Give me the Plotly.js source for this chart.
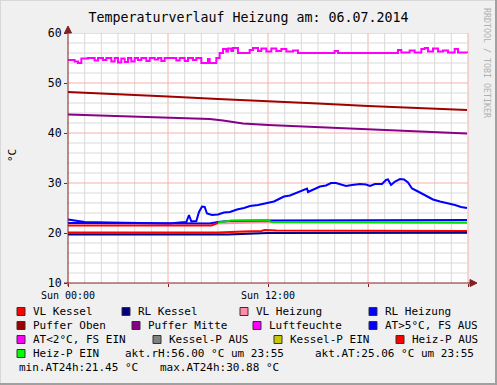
<!DOCTYPE html>
<html>
<head>
<meta charset="utf-8">
<script src="https://cdn.plot.ly/plotly-3.0.1.min.js"></script>
<style>html,body{margin:0;padding:0;background:#F0F0F0;}#chart{width:497px;height:385px;}</style>
</head>
<body>
<div id="chart"></div>
<script>
// ---- data (hours since Sun 00:00, °C / %) ----
const luftH = [0.0,0.4,0.6,0.8,1.2,1.6,1.8,2.1,2.3,2.6,2.8,3.0,3.2,3.4,3.6,3.8,4.0,4.2,4.4,4.7,4.9,5.2,5.4,5.6,5.8,6.5,6.7,7.0,7.2,7.5,7.7,8.0,8.4,8.5,8.9,9.1,9.3,9.5,9.6,9.8,9.9,10.2,10.9,11.1,11.4,11.6,11.9,12.2,12.5,12.8,13.1,13.5,13.8,16.0,16.2,19.8,20.0,20.5,20.8,21.2,21.4,21.6,21.9,22.2,22.5,22.8,23.2,23.4,23.94];
const luftV = [54.6,54.3,54.0,54.9,55.0,54.5,55.0,54.6,55.0,54.3,55.0,54.1,54.9,54.2,55.0,54.3,55.0,54.6,55.0,54.4,55.0,54.7,55.0,54.4,55.0,54.5,55.0,54.4,55.0,54.6,55.0,54.0,54.8,54.0,55.0,56.0,56.8,56.3,56.9,56.4,57.0,56.0,56.6,57.0,56.4,56.9,56.3,56.9,56.4,56.8,56.3,56.5,56.0,56.4,56.0,56.6,56.1,56.5,56.1,56.8,57.0,56.3,56.9,56.3,56.5,56.1,56.8,56.1,56.0];

const pufOH = [0,3,6,9,12,15,18,21,23.94];
const pufOV = [48.2,47.8,47.3,46.8,46.4,45.9,45.4,45.0,44.6];

const pufMH = [0,3,6,8.5,9.3,9.8,10.5,12,15,18,21,23.94];
const pufMV = [43.7,43.4,43.1,42.8,42.5,42.2,41.9,41.6,41.2,40.7,40.3,39.9];

const atH = [0,0.42,1.0,2.5,4.3,6.1,6.7,7.1,7.26,7.4,7.7,7.86,8.04,8.2,8.34,8.64,9.0,9.36,9.72,10.14,10.56,10.92,11.4,12.0,12.36,12.72,12.96,13.32,13.62,13.92,14.22,14.34,14.4,14.7,15.12,15.48,15.78,16.08,16.38,16.68,17.04,17.52,17.88,18.12,18.42,18.84,19.08,19.2,19.38,19.62,19.92,20.16,20.4,20.64,21.0,21.42,21.9,22.32,22.8,23.22,23.58,23.94];
const atV = [22.7,22.5,22.2,22.1,22.0,21.9,22.1,22.2,23.6,22.3,22.4,24.2,25.3,25.2,23.9,23.6,23.7,24.1,24.2,24.7,25.0,25.4,25.6,26.1,26.3,26.9,27.3,27.5,27.9,28.3,28.6,28.9,28.2,28.7,29.3,29.5,30.0,30.0,29.7,29.4,29.6,29.8,29.7,29.4,29.8,29.8,30.6,30.7,29.6,30.3,30.8,30.7,30.1,28.9,28.3,27.6,26.7,26.3,26.0,25.6,25.2,25.0];

const rlHzH = [0,8.5,9.0,9.6,12,23.94];
const rlHzV = [22.0,21.9,22.2,22.4,22.5,22.6];

const vlHzH = [9.0,12,23.94];
const vlHzV = [21.9,22.2,22.0];

const hzAusH = [0,8.6,9.0];
const hzAusV = [21.5,21.5,22.0];

const hzEinH = [9.0,9.8,12.0,12.2,23.94];
const hzEinV = [22.1,22.5,22.6,22.2,22.1];

const vlKH = [0,9,10.5,11.6,11.8,12.5,23.94];
const vlKV = [20.1,20.1,20.3,20.4,20.6,20.5,20.4];

const rlKH = [0,9.6,12,23.94];
const rlKV = [19.7,19.7,20.0,20.05];

const xTickVals = [0,6,12,18,24];
const xTickText = ["Sun 00:00","","Sun 12:00","",""];

const legendNames = ["VL Kessel","RL Kessel","VL Heizung","RL Heizung","Puffer Oben","Puffer Mitte","Luftfeuchte","AT>5°C, FS AUS","AT<2°C, FS EIN","Kessel-P AUS","Kessel-P EIN","Heiz-P AUS","Heiz-P EIN"];
const legendColors = ["#FF0000","#000080","#FF8CA8","#0000FF","#A00000","#880088","#FF00FF","#0000FF","#FF00FF","#808080","#C8C800","#FF0000","#00FF00"];
const infoTexts = ["akt.rH:56.00 °C um 23:55","akt.AT:25.06 °C um 23:55","min.AT24h:21.45 °C","max.AT24h:30.88 °C"];

// ---- layout helpers ----
const L = 68, B = 283, PW = 400, PH = 250;
const px = X => (X - L) / PW;
const py = Y => (B - Y) / PH;
const MONO = "DejaVu Sans Mono";

function tr(x, y, c, w, shape) {
  return {x: x, y: y, type: "scatter", mode: "lines", line: {color: c, width: w || 2, shape: shape || "linear"}, hoverinfo: "skip", showlegend: false};
}

const traces = [
  tr(luftH, luftV, "#FF00FF", 2, "hv"),
  tr(pufOH, pufOV, "#A00000"),
  tr(pufMH, pufMV, "#880088"),
  tr(vlHzH, vlHzV, "#FF8CA8"),
  tr(rlHzH, rlHzV, "#0000FF"),
  tr(atH, atV, "#0000FF"),
  tr(hzAusH, hzAusV, "#FF0000"),
  tr(hzEinH, hzEinV, "#00E000"),
  tr(vlKH, vlKV, "#FF0000"),
  tr(rlKH, rlKV, "#000080")
];

// legend placement (pixels)
const legSq = [[17,311.5],[122,311.5],[240,311.5],[369,311.5],
               [17,325.5],[132,325.5],[253,325.5],[369,325.5],
               [17,339.5],[153,339.5],[274,339.5],[396,339.5],
               [17,353.5]];
const infoPos = [[123,353.5],[313,353.5],[17,367.5],[158,367.5]];

const shapes = [];
const annotations = [];

// grid lines (hourly / every 2 °C), drawn below traces
const GRID = "#DADADA", GRIDMAJ = "#F5B0B0";
for (let h = 1; h < 24; h++) {
  shapes.push({type: "line", xref: "x", yref: "paper", x0: h, x1: h, y0: 0, y1: 1, layer: "below",
               line: {color: h % 6 === 0 ? GRIDMAJ : GRID, width: 1}});
}
shapes.push({type: "line", xref: "paper", yref: "paper", x0: 1, x1: 1, y0: 0, y1: 1, layer: "below", line: {color: GRIDMAJ, width: 1}});
for (let v = 12; v <= 60; v += 2) {
  shapes.push({type: "line", xref: "paper", yref: "y", x0: 0, x1: 1, y0: v, y1: v, layer: "below",
               line: {color: v % 10 === 0 ? GRIDMAJ : GRID, width: 1}});
}

legendNames.forEach((n, i) => {
  const [sx, sy] = legSq[i];
  shapes.push({type: "rect", xref: "paper", yref: "paper", x0: px(sx), x1: px(sx + 8), y0: py(sy + 4), y1: py(sy - 4),
               fillcolor: legendColors[i], line: {color: "#333333", width: 1}});
  annotations.push({xref: "paper", yref: "paper", x: px(sx + 14), y: py(sy), xanchor: "left", yanchor: "middle",
                    text: n, showarrow: false, font: {family: MONO, size: 11, color: "#000"}});
});
infoTexts.forEach((t, i) => {
  const [sx, sy] = infoPos[i];
  annotations.push({xref: "paper", yref: "paper", x: px(sx), y: py(sy), xanchor: "left", yanchor: "middle",
                    text: t, showarrow: false, font: {family: MONO, size: 11, color: "#000"}});
});
// y-axis unit
annotations.push({xref: "paper", yref: "paper", x: px(12), y: py(155), xanchor: "center", yanchor: "middle",
                  text: "°C", textangle: -90, showarrow: false, font: {family: MONO, size: 11, color: "#000"}});
// watermark
annotations.push({xref: "paper", yref: "paper", x: px(487), y: py(63), xanchor: "center", yanchor: "middle",
                  text: "RRDTOOL / TOBI OETIKER", textangle: 90, showarrow: false, font: {family: MONO, size: 8.3, color: "#B0B0B0"}});

// axis arrows
const AX = "#802020";
shapes.push({type: "line", xref: "paper", yref: "paper", x0: px(64), x1: px(471), y0: 0, y1: 0, line: {color: AX, width: 1}});
shapes.push({type: "path", xref: "paper", yref: "paper",
             path: `M ${px(470)} ${py(279.5)} L ${px(477)} ${py(283)} L ${px(470)} ${py(286.5)} Z`, fillcolor: AX, line: {color: AX, width: 1}});
shapes.push({type: "line", xref: "paper", yref: "paper", x0: 0, x1: 0, y0: py(286), y1: py(29), line: {color: AX, width: 1}});
shapes.push({type: "path", xref: "paper", yref: "paper",
             path: `M ${px(64.5)} ${py(33)} L ${px(68)} ${py(26)} L ${px(71.5)} ${py(33)} Z`, fillcolor: AX, line: {color: AX, width: 1}});

// frame
shapes.push({type: "rect", xref: "paper", yref: "paper", x0: px(0), x1: px(1), y0: py(385), y1: py(0), fillcolor: "#D8D8D8", line: {width: 0}, layer: "above"});
shapes.push({type: "rect", xref: "paper", yref: "paper", x0: px(0), x1: px(497), y0: py(1), y1: py(0), fillcolor: "#D8D8D8", line: {width: 0}, layer: "above"});
shapes.push({type: "rect", xref: "paper", yref: "paper", x0: px(495), x1: px(497), y0: py(385), y1: py(0), fillcolor: "#A0A0A0", line: {width: 0}, layer: "above"});
shapes.push({type: "rect", xref: "paper", yref: "paper", x0: px(0), x1: px(497), y0: py(385), y1: py(383), fillcolor: "#A0A0A0", line: {width: 0}, layer: "above"});

const layout = {
  width: 497, height: 385,
  margin: {l: 68, r: 29, t: 33, b: 102, autoexpand: false},
  paper_bgcolor: "#F0F0F0", plot_bgcolor: "#FFFFFF",
  showlegend: false,
  title: {text: "Temperaturverlauf Heizung am: 06.07.2014", font: {family: MONO, size: 13.3, color: "#000"},
          x: 0.5, xref: "container", xanchor: "center", y: 1 - 17 / 385, yref: "container", yanchor: "middle"},
  xaxis: {range: [0, 24], tickmode: "array", tickvals: xTickVals, ticktext: xTickText,
          showgrid: false, zeroline: false,
          ticks: "outside", ticklen: 3, tickcolor: AX, showline: false,
          tickfont: {family: MONO, size: 10, color: "#000"}, fixedrange: true},
  yaxis: {range: [10, 60], dtick: 10, tick0: 0, showgrid: false, zeroline: false,
          ticks: "outside", ticklen: 3, tickcolor: AX, showline: false,
          tickfont: {family: MONO, size: 11.5, color: "#000"}, fixedrange: true},
  shapes: shapes,
  annotations: annotations
};

Plotly.newPlot("chart", traces, layout, {staticPlot: true, displayModeBar: false});
</script>
</body>
</html>
